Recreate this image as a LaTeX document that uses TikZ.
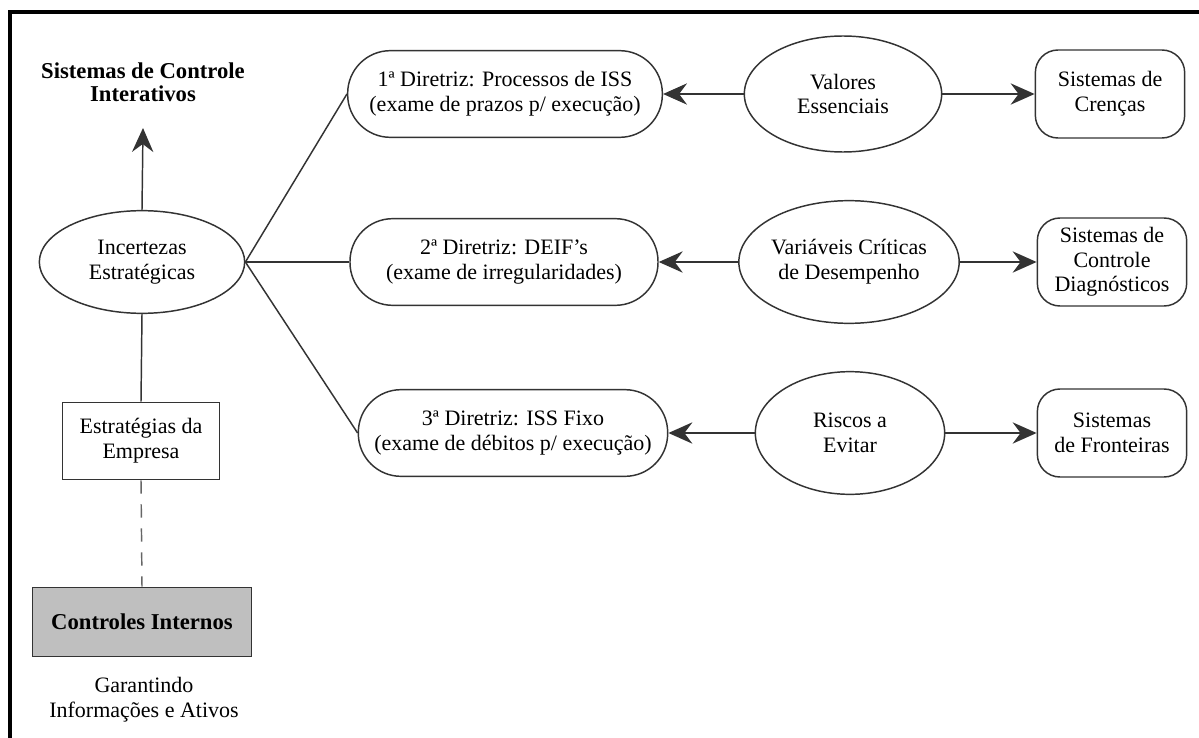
\documentclass[tikz,border=0pt]{standalone}
\usepackage{fontspec}
\setmainfont{Liberation Serif}
\usetikzlibrary{arrows.meta,shapes.geometric}
\begin{document}
\begin{tikzpicture}[x=0.75pt,y=-0.75pt,
  every node/.style={font=\fontsize{16.5}{18.5}\selectfont, align=center, inner sep=0pt},
  conn/.style={draw=black!80, line width=1.1pt},
  arr/.style={conn, -{Stealth[length=18pt,width=16pt,inset=6pt]}},
  ell/.style={draw=black!80, line width=1.1pt, ellipse},
  stad/.style={draw=black!80, line width=1.1pt, rectangle, rounded corners=32pt, minimum width=236pt, minimum height=65pt},
  sysbox/.style={draw=black!80, line width=1.1pt, rectangle, rounded corners=17pt, minimum width=112pt, minimum height=66pt},
  plainbox/.style={draw=black!80, line width=1.1pt, rectangle},
  boldtxt/.style={font=\bfseries\fontsize{17}{17.5}\selectfont}
]
\useasboundingbox (0,0) rectangle (1199,738);
\fill[white] (0,0) rectangle (1199,738);
\draw[line width=3pt] (9.5,738) -- (9.5,12) -- (1199,12);

\node[boldtxt] (title) at (143,82) {Sistemas de Controle\\Interativos};
\coordinate (titlebot) at (143,128);
\node[ell, minimum width=154pt, minimum height=77pt] (inc) at (142,262) {Incertezas\\Estratégicas};
\node[plainbox, minimum width=118pt, minimum height=58pt] (estr) at (141,441) {Estratégias da\\Empresa};
\node[plainbox, fill=black!25, minimum width=164pt, minimum height=52pt, boldtxt] (ci) at (142,622) {Controles Internos};
\node (gar) at (144,700) {Garantindo\\Informações e Ativos};

\node[stad] (d1) at (505,94) {1ª Diretriz: Processos de ISS\\(exame de prazos p/ execução)};
\node[stad, minimum width=231pt] (d2) at (504,262) {2ª Diretriz: DEIF's\\(exame de irregularidades)};
\node[stad, minimum width=232pt] (d3) at (513,433) {3ª Diretriz: ISS Fixo\\(exame de débitos p/ execução)};

\node[ell, minimum width=148pt, minimum height=87pt] (v1) at (843,94) {Valores\\Essenciais};
\node[ell, minimum width=151pt, minimum height=92pt] (v2) at (849,262) {Variáveis Críticas\\de Desempenho};
\node[ell, minimum width=142pt, minimum height=92pt] (v3) at (850,433) {Riscos a\\Evitar};

\node[sysbox] (s1) at (1110,94) {Sistemas de\\Crenças};
\node[sysbox] (s2) at (1112,262) {Sistemas de\\Controle\\Diagnósticos};
\node[sysbox] (s3) at (1112,433) {Sistemas\\de Fronteiras};

\draw[arr] (inc.north) -- (titlebot);
\draw[conn] (inc.south) -- (estr.north);
\draw[conn, dash pattern=on 10pt off 8pt, draw=black!60] (estr.south) -- (ci.north);
\draw[conn] (inc.east) -- (d1.west);
\draw[conn] (inc.east) -- (d2.west);
\draw[conn] (inc.east) -- (d3.west);
\draw[arr] (v1.west) -- (d1.east);
\draw[arr] (v2.west) -- (d2.east);
\draw[arr] (v3.west) -- (d3.east);
\draw[arr] (v1.east) -- (s1.west);
\draw[arr] (v2.east) -- (s2.west);
\draw[arr] (v3.east) -- (s3.west);
\end{tikzpicture}
\end{document}
